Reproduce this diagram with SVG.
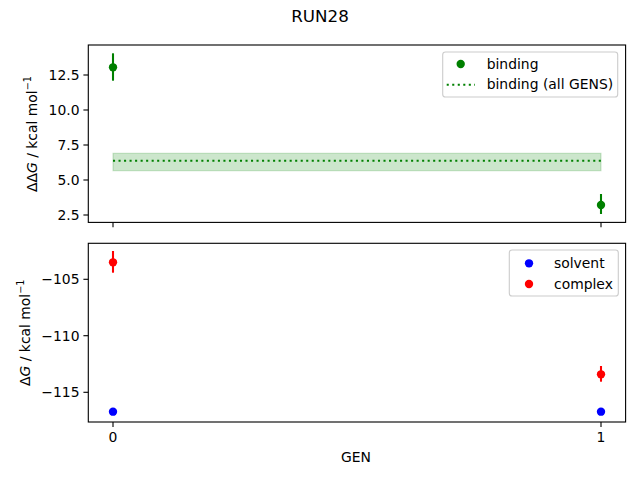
<svg xmlns="http://www.w3.org/2000/svg" width="640" height="480" viewBox="0 0 640 480">
<style>
text{font-family:"DejaVu Sans",sans-serif;font-size:13.9px;fill:#000}
.spine{fill:none;stroke:#000;stroke-width:1.11}
.tick{stroke:#000;stroke-width:1.11}
.err{stroke-width:2.08}
.leg{fill:#fff;fill-opacity:0.8;stroke:#cccccc;stroke-width:1.11}
.r{text-anchor:end}
.m{text-anchor:middle}
.it{font-style:italic}
.sup{font-size:9.7px}
</style>
<rect width="640" height="480" fill="#fff"/>
<text id="title" x="320" y="22" class="m" style="font-size:16.7px">RUN28</text>

<g id="top-axes">
  <rect x="88.3" y="45" width="537.3" height="177.4" fill="#fff"/>
  <g id="band">
    <rect x="113" y="153.3" width="488" height="17.4" fill="#008000" fill-opacity="0.2" stroke="#008000" stroke-opacity="0.2" stroke-width="1.11"/>
    <line x1="113" y1="160.7" x2="601" y2="160.7" stroke="#008000" stroke-width="2.08" stroke-dasharray="2.08 3.44"/>
  </g>
  <g id="top-points">
    <line class="err" x1="113" y1="53.3" x2="113" y2="80.7" stroke="#008000"/>
    <circle cx="113" cy="67.3" r="4.17" fill="#008000"/>
    <line class="err" x1="601" y1="194" x2="601" y2="214" stroke="#008000"/>
    <circle cx="601" cy="205" r="4.17" fill="#008000"/>
  </g>
  <rect class="spine" x="88.3" y="45" width="537.3" height="177.4"/>
  <g id="top-yticks">
    <line class="tick" x1="88.3" y1="75" x2="83.4" y2="75"/>
    <line class="tick" x1="88.3" y1="110" x2="83.4" y2="110"/>
    <line class="tick" x1="88.3" y1="145" x2="83.4" y2="145"/>
    <line class="tick" x1="88.3" y1="180" x2="83.4" y2="180"/>
    <line class="tick" x1="88.3" y1="215" x2="83.4" y2="215"/>
    <text class="r" x="79.5" y="80">12.5</text>
    <text class="r" x="79.5" y="115">10.0</text>
    <text class="r" x="79.5" y="150">7.5</text>
    <text class="r" x="79.5" y="185">5.0</text>
    <text class="r" x="79.5" y="220">2.5</text>
  </g>
  <g id="top-xticks">
    <line class="tick" x1="113" y1="222.4" x2="113" y2="227.3"/>
    <line class="tick" x1="601" y1="222.4" x2="601" y2="227.3"/>
  </g>
  <text id="top-ylabel" transform="translate(36.5,134) rotate(-90)" class="m">ΔΔ<tspan class="it">G</tspan> / kcal mol<tspan class="sup" dy="-6">−1</tspan></text>
  <g id="top-legend">
    <rect class="leg" x="442.7" y="52" width="175" height="45" rx="2.8"/>
    <circle cx="460.7" cy="64" r="4.17" fill="#008000"/>
    <text x="486.7" y="68.7">binding</text>
    <line x1="446.7" y1="84.7" x2="475" y2="84.7" stroke="#008000" stroke-width="2.08" stroke-dasharray="2.08 3.44"/>
    <text x="486.7" y="88.7">binding (all GENS)</text>
  </g>
</g>

<g id="bottom-axes">
  <rect x="88.3" y="243.3" width="537.3" height="178.7" fill="#fff"/>
  <g id="bottom-points">
    <line class="err" x1="113" y1="251" x2="113" y2="272.7" stroke="#ff0000"/>
    <circle cx="113" cy="262.3" r="4.17" fill="#ff0000"/>
    <line class="err" x1="601" y1="366" x2="601" y2="381.7" stroke="#ff0000"/>
    <circle cx="601" cy="374.3" r="4.17" fill="#ff0000"/>
    <circle cx="113" cy="411.7" r="4.17" fill="#0000ff"/>
    <circle cx="601" cy="411.7" r="4.17" fill="#0000ff"/>
  </g>
  <rect class="spine" x="88.3" y="243.3" width="537.3" height="178.7"/>
  <g id="bottom-yticks">
    <line class="tick" x1="88.3" y1="279.3" x2="83.4" y2="279.3"/>
    <line class="tick" x1="88.3" y1="335.7" x2="83.4" y2="335.7"/>
    <line class="tick" x1="88.3" y1="392.3" x2="83.4" y2="392.3"/>
    <text class="r" x="79.5" y="284.3">−105</text>
    <text class="r" x="79.5" y="340.7">−110</text>
    <text class="r" x="79.5" y="397.3">−115</text>
  </g>
  <g id="bottom-xticks">
    <line class="tick" x1="113" y1="422" x2="113" y2="426.9"/>
    <line class="tick" x1="601" y1="422" x2="601" y2="426.9"/>
    <text class="m" x="113" y="442">0</text>
    <text class="m" x="601" y="442">1</text>
  </g>
  <text id="xlabel" class="m" x="356" y="462">GEN</text>
  <text id="bottom-ylabel" transform="translate(30,332.7) rotate(-90)" class="m">Δ<tspan class="it">G</tspan> / kcal mol<tspan class="sup" dy="-6">−1</tspan></text>
  <g id="bottom-legend">
    <rect class="leg" x="509.3" y="250" width="109" height="46" rx="2.8"/>
    <circle cx="529" cy="263.3" r="4.17" fill="#0000ff"/>
    <text x="554" y="268">solvent</text>
    <circle cx="529" cy="284" r="4.17" fill="#ff0000"/>
    <text x="554" y="288.7">complex</text>
  </g>
</g>
</svg>
